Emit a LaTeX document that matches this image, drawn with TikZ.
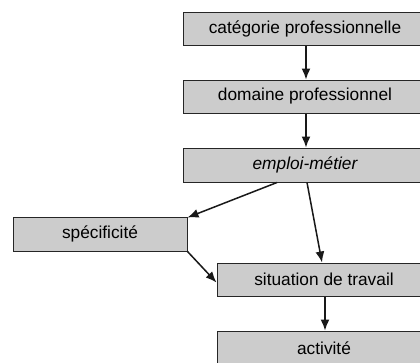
\documentclass[tikz,border=0pt]{standalone}
\usepackage{fontspec}
\setmainfont{Liberation Sans}
\usetikzlibrary{arrows.meta}
\begin{document}
\begin{tikzpicture}[x=1pt,y=-1pt,
  box/.style={draw=black!85, line width=1pt, fill=black!20, inner sep=0pt,
    minimum height=33pt, font=\fontsize{17.3}{20}\selectfont},
  arr/.style={-{Latex[length=11pt,width=9pt]}, line width=1.5pt, black!90}]
\useasboundingbox (0,0) rectangle (420,362);
\clip (0,0) rectangle (420,362);
\node[box, minimum width=244pt] (cat) at (305,29) {catégorie professionnelle};
\node[box, minimum width=244pt] (dom) at (305,96.5) {domaine professionnel};
\node[box, minimum width=244pt, minimum height=34pt] (emp) at (305,165) {\itshape emploi-métier};
\node[box, minimum width=174pt, minimum height=34pt] (spe) at (100,234) {spécificité};
\node[box, minimum width=214pt] (sit) at (324,279.5) {situation de travail};
\node[box, minimum width=214pt, minimum height=34pt] (act) at (324,348) {activité};
\draw[arr] ([xshift=1pt]cat.south) -- ([xshift=1pt]dom.north);
\draw[arr] ([xshift=1pt]dom.south) -- ([xshift=1pt]emp.north);
\draw[arr] ([xshift=-28pt]emp.south) -- ([yshift=-1pt]spe.north east);
\draw[arr] ([xshift=2pt]emp.south) -- ([xshift=-2pt]sit.north);
\draw[arr] (spe.south east) -- ([yshift=-3pt]sit.west);
\draw[arr] ([xshift=1pt]sit.south) -- ([xshift=1pt]act.north);
\end{tikzpicture}
\end{document}
